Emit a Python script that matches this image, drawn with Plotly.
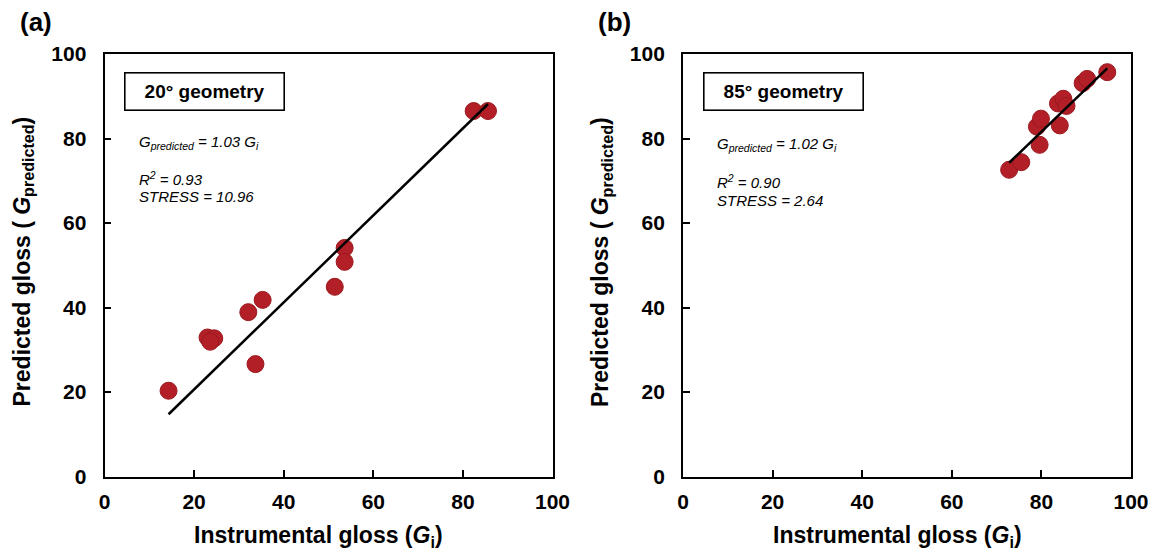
import plotly.graph_objects as go

# Instrumental vs. predicted gloss, 20° geometry
gi_20 = [14.3, 23.0, 24.5, 23.6, 32.1, 35.3, 33.7, 51.4, 53.6, 53.6, 82.4, 85.6]
gp_20 = [20.3, 32.9, 32.7, 31.9, 38.9, 41.8, 26.6, 44.9, 54.1, 50.8, 86.5, 86.5]
slope_20 = 1.03
r2_20 = 0.93
stress_20 = 10.96

# Instrumental vs. predicted gloss, 85° geometry
gi_85 = [72.8, 75.5, 79.6, 79.0, 79.9, 84.1, 83.7, 84.9, 85.6, 89.2, 90.2, 94.7]
gp_85 = [72.6, 74.4, 78.5, 82.8, 84.7, 83.1, 88.3, 89.4, 87.7, 93.1, 94.1, 95.7]
slope_85 = 1.02
r2_85 = 0.90
stress_85 = 2.64

ticks = [0, 20, 40, 60, 80, 100]
panel_labels = ["(a)", "(b)"]
geometry_labels = ["20° geometry", "85° geometry"]

W, H = 1153, 551
FONT = "Liberation Sans, Arial, Helvetica, sans-serif"
RED = "#B31F26"


def px(xp):
    return xp / W


def py(yp):
    return 1 - yp / H


fig = go.Figure()

panels = [
    dict(gi=gi_20, gp=gp_20, slope=slope_20, r2=r2_20, stress=stress_20,
         xa="x", ya="y", left=104.5, right=552.5),
    dict(gi=gi_85, gp=gp_85, slope=slope_85, r2=r2_85, stress=stress_85,
         xa="x2", ya="y2", left=683.0, right=1131.0),
]
top, bottom = 54.0, 476.5

annotations = []


def note(**kw):
    d = dict(xref="paper", yref="paper", showarrow=False)
    d.update(kw)
    annotations.append(d)


for i, p in enumerate(panels):
    # regression line through the origin, spanning the observed range
    xs = [min(p["gi"]), max(p["gi"])]
    fig.add_trace(go.Scatter(
        x=p["gi"], y=p["gp"], mode="markers", xaxis=p["xa"], yaxis=p["ya"],
        marker=dict(size=17, color=RED, line=dict(color="#9A1A20", width=1)),
        showlegend=False, hoverinfo="x+y"))
    fig.add_trace(go.Scatter(
        x=xs, y=[p["slope"] * v for v in xs], mode="lines",
        xaxis=p["xa"], yaxis=p["ya"],
        line=dict(color="black", width=2.5), showlegend=False))

    axis_common = dict(
        range=[0, 100], tickvals=ticks, ticks="inside", ticklen=7,
        tickwidth=1.5, tickcolor="black", showline=True, linecolor="black",
        linewidth=1.8, mirror=True, showgrid=False, zeroline=False,
        automargin=False,
        tickfont=dict(family=FONT, size=21, color="black", weight="bold"),
        fixedrange=True,
    )
    suffix = "" if i == 0 else "2"
    fig.update_layout({
        "xaxis" + suffix: dict(axis_common, domain=[px(p["left"]), px(p["right"])],
                               anchor="y" + suffix, ticklabelstandoff=5),
        "yaxis" + suffix: dict(axis_common, domain=[py(bottom), py(top)],
                               anchor="x" + suffix, ticklabelstandoff=12),
    })

    L = p["left"]
    # panel letter
    note(text="<b>%s</b>" % panel_labels[i], x=px(L - 87), y=py(22),
         xanchor="left", yanchor="middle",
         font=dict(family=FONT, size=26, color="black"))
    # boxed geometry label
    note(text="<b>%s</b>" % geometry_labels[i], x=px(L + 100.5), y=py(91.5),
         xanchor="center", yanchor="middle",
         width=158, height=36, borderpad=0, bordercolor="black", borderwidth=1.6,
         bgcolor="white", font=dict(family=FONT, size=19, color="black"))
    # fit statistics
    stat_x = px(L + 32)
    note(text="<i>G<sub>predicted</sub> = %.2f G<sub>i</sub></i>" % p["slope"],
         x=stat_x, y=py(142 + 3 * i), xanchor="left", yanchor="middle",
         font=dict(family=FONT, size=15, color="black"))
    note(text="<i>R<sup>2</sup> = %.2f</i>" % p["r2"],
         x=stat_x, y=py(178 + 4 * i), xanchor="left", yanchor="middle",
         font=dict(family=FONT, size=15, color="black"))
    note(text="<i>STRESS = %.2f</i>" % p["stress"],
         x=stat_x, y=py(196 + 4 * i), xanchor="left", yanchor="middle",
         font=dict(family=FONT, size=15, color="black"))
    # axis titles
    note(text="<b>Instrumental gloss (<i>G</i><sub>i</sub>)</b>",
         x=px(L + 214), y=py(536), xanchor="center", yanchor="middle",
         font=dict(family=FONT, size=23, color="black"))
    note(text="<b>Predicted gloss ( <i>G</i><sub>predicted</sub>)</b>",
         x=px(L - 82), y=py(262), xanchor="center", yanchor="middle",
         textangle=-90, font=dict(family=FONT, size=23, color="black"))

fig.update_layout(
    width=W, height=H, margin=dict(l=0, r=0, t=0, b=0),
    paper_bgcolor="white", plot_bgcolor="white",
    annotations=annotations, showlegend=False,
    font=dict(family=FONT, color="black"),
)

fig.write_html("out.html")
